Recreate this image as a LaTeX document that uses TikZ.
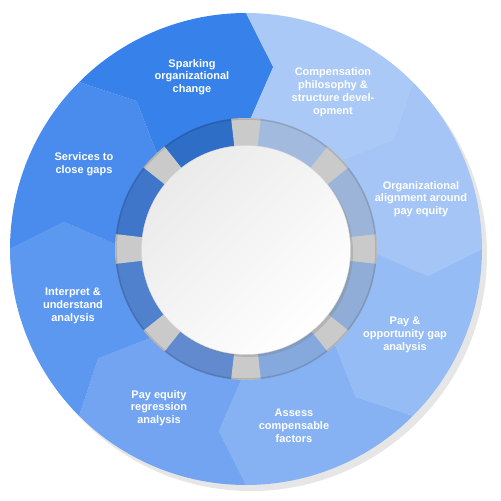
\documentclass[tikz,border=0pt]{standalone}
\usepackage{fontspec}
\setmainfont{Liberation Sans}
\usepackage{xcolor}
\usepackage{tikz}
\usetikzlibrary{shadows}

\definecolor{sparkblue}{HTML}{3781EA}
\definecolor{compblue}{HTML}{ABC9F6}
\definecolor{alignblue}{HTML}{A4C5F6}
\definecolor{gapblue}{HTML}{95BCF5}
\definecolor{assessblue}{HTML}{86B2F4}
\definecolor{regrblue}{HTML}{72A4F2}
\definecolor{interpblue}{HTML}{5D98F0}
\definecolor{servblue}{HTML}{4A8BEE}
\definecolor{ringshadow}{HTML}{E6E6E6}
\definecolor{sepgray}{HTML}{CACACA}

\tikzset{
  steplabel/.style={text=white, font=\bfseries\fontsize{11}{12.8}\selectfont, align=center, inner sep=0pt},
  hub/.style={circle, minimum size=209pt, inner sep=0pt, draw=gray!30, top color=gray!16, bottom color=white, shading angle=45,
    drop shadow={shadow xshift=2.5pt, shadow yshift=-2.5pt, opacity=.3}},
}

\begin{document}
\begin{tikzpicture}[x=1pt, y=1pt]
\useasboundingbox (-246,-252) rectangle (255,249);
\fill[ringshadow] (5,-6) circle (236pt);

\fill[sparkblue] (135:236pt) arc[start angle=135, end angle=90, radius=236pt] -- (81.5:184pt) -- (90:120pt) arc[start angle=90, end angle=135, radius=120pt] -- (126.5:184pt) -- cycle;
\fill[compblue] (90:236pt) arc[start angle=90, end angle=45, radius=236pt] -- (36.5:184pt) -- (45:120pt) arc[start angle=45, end angle=90, radius=120pt] -- (81.5:184pt) -- cycle;
\fill[alignblue] (45:236pt) arc[start angle=45, end angle=0, radius=236pt] -- (-8.5:184pt) -- (0:120pt) arc[start angle=0, end angle=45, radius=120pt] -- (36.5:184pt) -- cycle;
\fill[gapblue] (0:236pt) arc[start angle=0, end angle=-45, radius=236pt] -- (-53.5:184pt) -- (-45:120pt) arc[start angle=-45, end angle=0, radius=120pt] -- (-8.5:184pt) -- cycle;
\fill[assessblue] (-45:236pt) arc[start angle=-45, end angle=-90, radius=236pt] -- (-98.5:184pt) -- (-90:120pt) arc[start angle=-90, end angle=-45, radius=120pt] -- (-53.5:184pt) -- cycle;
\fill[regrblue] (-90:236pt) arc[start angle=-90, end angle=-135, radius=236pt] -- (-143.5:184pt) -- (-135:120pt) arc[start angle=-135, end angle=-90, radius=120pt] -- (-98.5:184pt) -- cycle;
\fill[interpblue] (225:236pt) arc[start angle=225, end angle=180, radius=236pt] -- (171.5:184pt) -- (180:120pt) arc[start angle=180, end angle=225, radius=120pt] -- (216.5:184pt) -- cycle;
\fill[servblue] (180:236pt) arc[start angle=180, end angle=135, radius=236pt] -- (126.5:184pt) -- (135:120pt) arc[start angle=135, end angle=180, radius=120pt] -- (171.5:184pt) -- cycle;

\fill[sparkblue!85!black] (135:131pt) arc[start angle=135, end angle=90, radius=131pt] -- (90:100pt) arc[start angle=90, end angle=135, radius=100pt] -- cycle;
\fill[compblue!80!gray] (90:131pt) arc[start angle=90, end angle=45, radius=131pt] -- (45:100pt) arc[start angle=45, end angle=90, radius=100pt] -- cycle;
\fill[alignblue!75!gray] (45:131pt) arc[start angle=45, end angle=0, radius=131pt] -- (0:100pt) arc[start angle=0, end angle=45, radius=100pt] -- cycle;
\fill[gapblue!75!gray] (0:131pt) arc[start angle=0, end angle=-45, radius=131pt] -- (-45:100pt) arc[start angle=-45, end angle=0, radius=100pt] -- cycle;
\fill[assessblue!80!gray] (-45:131pt) arc[start angle=-45, end angle=-90, radius=131pt] -- (-90:100pt) arc[start angle=-90, end angle=-45, radius=100pt] -- cycle;
\fill[regrblue!85!black] (-90:131pt) arc[start angle=-90, end angle=-135, radius=131pt] -- (-135:100pt) arc[start angle=-135, end angle=-90, radius=100pt] -- cycle;
\fill[interpblue!85!black] (225:131pt) arc[start angle=225, end angle=180, radius=131pt] -- (180:100pt) arc[start angle=180, end angle=225, radius=100pt] -- cycle;
\fill[servblue!85!black] (180:131pt) arc[start angle=180, end angle=135, radius=131pt] -- (135:100pt) arc[start angle=135, end angle=180, radius=100pt] -- cycle;

\fill[sepgray] (96.5:131pt) arc[start angle=96.5, end angle=83.5, radius=131pt] -- (83.5:100pt) arc[start angle=83.5, end angle=96.5, radius=100pt] -- cycle;
\fill[sepgray] (51.5:131pt) arc[start angle=51.5, end angle=38.5, radius=131pt] -- (38.5:100pt) arc[start angle=38.5, end angle=51.5, radius=100pt] -- cycle;
\fill[sepgray] (6.5:131pt) arc[start angle=6.5, end angle=-6.5, radius=131pt] -- (-6.5:100pt) arc[start angle=-6.5, end angle=6.5, radius=100pt] -- cycle;
\fill[sepgray] (-38.5:131pt) arc[start angle=-38.5, end angle=-51.5, radius=131pt] -- (-51.5:100pt) arc[start angle=-51.5, end angle=-38.5, radius=100pt] -- cycle;
\fill[sepgray] (-83.5:131pt) arc[start angle=-83.5, end angle=-96.5, radius=131pt] -- (-96.5:100pt) arc[start angle=-96.5, end angle=-83.5, radius=100pt] -- cycle;
\fill[sepgray] (-128.5:131pt) arc[start angle=-128.5, end angle=-141.5, radius=131pt] -- (-141.5:100pt) arc[start angle=-141.5, end angle=-128.5, radius=100pt] -- cycle;
\fill[sepgray] (186.5:131pt) arc[start angle=186.5, end angle=173.5, radius=131pt] -- (173.5:100pt) arc[start angle=173.5, end angle=186.5, radius=100pt] -- cycle;
\fill[sepgray] (141.5:131pt) arc[start angle=141.5, end angle=128.5, radius=131pt] -- (128.5:100pt) arc[start angle=128.5, end angle=141.5, radius=100pt] -- cycle;
\draw[black, opacity=.12, line width=1.5pt] (0,0) circle (130pt);

\node[hub] (center) at (0,-1) {};

\node[steplabel] (spark) at (-54,172) {Sparking\\organizational\\change};
\node[steplabel] (comp) at (87,157) {Compensation\\philosophy \&\\structure devel-\\opment};
\node[steplabel] (align) at (175,50) {Organizational\\alignment around\\pay equity};
\node[steplabel] (gap) at (159,-86) {Pay \&\\opportunity gap\\analysis};
\node[steplabel] (assess) at (48,-177) {Assess\\compensable\\factors};
\node[steplabel] (regr) at (-87,-159) {Pay equity\\regression\\analysis};
\node[steplabel] (interp) at (-173,-57) {Interpret \&\\understand\\analysis};
\node[steplabel] (serv) at (-162,84.5) {Services to\\close gaps};
\end{tikzpicture}
\end{document}
